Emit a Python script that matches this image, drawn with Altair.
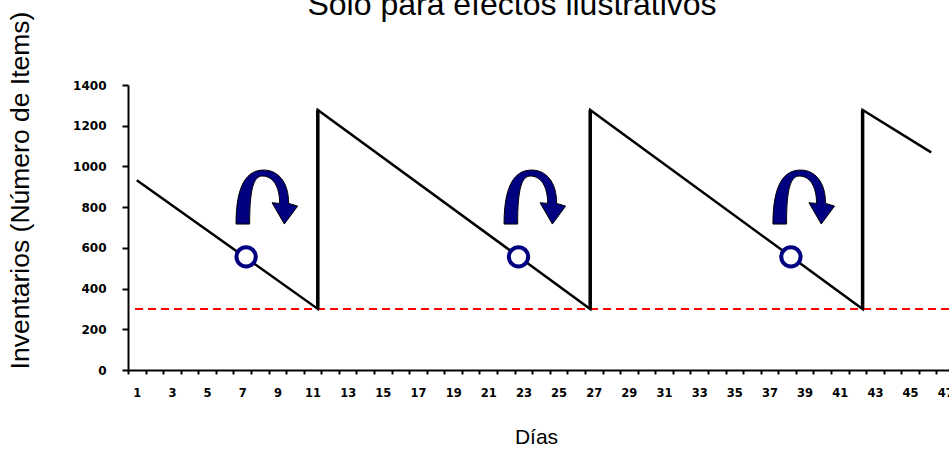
import altair as alt
import pandas as pd

# Text
title_text = "Solo para efectos ilustrativos"
y_title = "Inventarios (Número de Items)"
x_title = "Días"

# Inventory sawtooth (day, stock level)
saw_days = [1, 11.3, 11.3, 26.8, 26.8, 42.3, 42.3, 46.2]
saw_stock = [932, 300, 1277, 300, 1277, 300, 1277, 1069]

# Restocking jumps
restock_days = [11.3, 26.8, 42.3]
restock_low = [300, 300, 300]
restock_high = [1277, 1277, 1277]

# Reorder point
reorder_level = [300]
reorder_start = [0.9]
reorder_end = [47.5]

# Order moments (reorder trigger) and the curved arrows above them
order_days = [7.22, 22.72, 38.22]
order_stock = [556, 556, 556]
arrow_days = [8.4, 23.65, 38.95]
arrow_stock = [848, 848, 848]

# Axis ticks
y_ticks = [0, 200, 400, 600, 800, 1000, 1200, 1400]
day_bounds = [k + 0.5 for k in range(0, 48)]
day_labels = list(range(1, 48, 2))
x_values = sorted(day_bounds + day_labels)

NAVY = "#000080"

# Curved "down" arrow as a symbol path in the [-1, 1] box
arrow_path = (
    "M -0.994 0.861 C -0.994 -0.45 -0.62 -0.881 -0.103 -0.881 "
    "C 0.36 -0.881 0.703 -0.5 0.703 0.194 L 0.994 0.281 L 0.565 0.861 "
    "L 0.168 0.174 L 0.413 0.194 C 0.413 -0.35 0.2 -0.687 -0.145 -0.687 "
    "C -0.42 -0.687 -0.555 -0.3 -0.555 0.861 Z"
)

x_scale = alt.Scale(domain=[0.5, 47.5], range=[0, 826], nice=False, zero=False)
y_scale = alt.Scale(domain=[0, 1400], nice=False, zero=True)

x_axis = alt.Axis(
    values=x_values,
    labelExpr="datum.value % 2 === 1 ? '' + datum.value : ''",
    labelOverlap=False,
    labelFlush=False,
    labelFont="DejaVu Sans",
    labelFontSize=11.5,
    labelFontWeight="bold",
    labelColor="black",
    labelPadding=13,
    tickOpacity={"condition": {"test": "datum.value % 1 === 0", "value": 0}, "value": 1},
    tickSize=4,
    tickWidth=2,
    tickColor="black",
    domainColor="black",
    domainWidth=2,
    grid=False,
    title=x_title,
    titleFont="Liberation Sans",
    titleFontSize=21,
    titleFontWeight="normal",
    titleColor="black",
    titleX=408,
    titleY=67,
    titleAlign="center",
    titleBaseline="middle",
)

y_axis = alt.Axis(
    values=y_ticks,
    format="d",
    labelFont="DejaVu Sans",
    labelFontSize=12,
    labelFontWeight="bold",
    labelColor="black",
    labelPadding=16,
    tickSize=6,
    tickWidth=2,
    tickColor="black",
    domainColor="black",
    domainWidth=2,
    grid=False,
    title=y_title,
    titleFont="Liberation Sans",
    titleFontSize=26.5,
    titleFontWeight="normal",
    titleColor="black",
    titleAngle=270,
    titleX=-108,
    titleY=105,
    titleAlign="center",
    titleBaseline="middle",
)

X = alt.X("day:Q", scale=x_scale, axis=x_axis)
Y = alt.Y("stock:Q", scale=y_scale, axis=y_axis)

saw_df = pd.DataFrame({"day": saw_days, "stock": saw_stock, "seq": range(len(saw_days))})
restock_df = pd.DataFrame({"day": restock_days, "stock": restock_low, "stock2": restock_high})
reorder_df = pd.DataFrame({"day": reorder_start, "day2": reorder_end, "stock": reorder_level})
order_df = pd.DataFrame({"day": order_days, "stock": order_stock})
arrow_df = pd.DataFrame({"day": arrow_days, "stock": arrow_stock})
title_df = pd.DataFrame({"label": [title_text]})

reorder = alt.Chart(reorder_df).mark_rule(
    color="#ff0000", strokeWidth=2, strokeDash=[8, 5]
).encode(x=X, x2="day2:Q", y=Y)

saw = alt.Chart(saw_df).mark_line(color="black", strokeWidth=2.5).encode(
    x=X, y=Y, order="seq:Q"
)

restock = alt.Chart(restock_df).mark_rule(color="black", strokeWidth=3.5).encode(
    x=X, y=Y, y2="stock2:Q"
)

orders = alt.Chart(order_df).mark_point(
    shape="circle", filled=True, fill="white", stroke=NAVY,
    strokeWidth=4, size=372, opacity=1
).encode(x=X, y=Y)

arrows = alt.Chart(arrow_df).mark_point(
    shape=arrow_path, filled=True, fill=NAVY, stroke="black",
    strokeWidth=1, size=3844, opacity=1
).encode(x=X, y=Y)

title = alt.Chart(title_df).mark_text(
    font="Liberation Sans", fontSize=32, align="center",
    baseline="alphabetic", color="black"
).encode(text="label:N", x=alt.value(384), y=alt.value(-70))

chart = alt.layer(reorder, saw, restock, orders, arrows, title).properties(
    width=821,
    height=285,
    autosize=alt.AutoSizeParams(type="none"),
    padding={"left": 128, "top": 85, "right": 0, "bottom": 85},
).configure_view(stroke=None)

chart.save("out.html", embed_options={"renderer": "svg", "actions": False})
